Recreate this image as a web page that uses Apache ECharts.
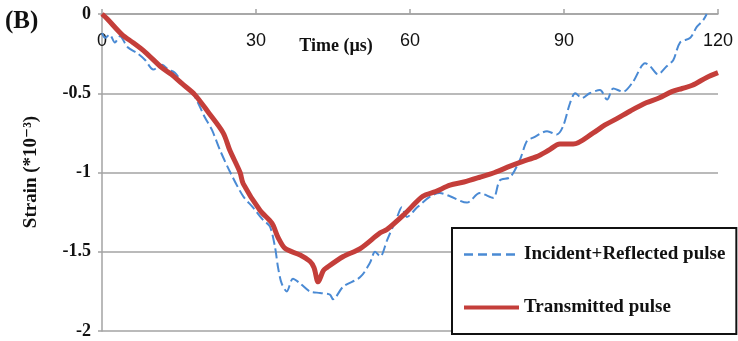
<!DOCTYPE html>
<html>
<head>
<meta charset="utf-8">
<script src="https://cdn.jsdelivr.net/npm/echarts@6/dist/echarts.min.js"></script>
<style>
  html, body { margin: 0; padding: 0; background: #fff; }
  #chart { width: 738px; height: 341px; }
</style>
</head>
<body>
<div id="chart"></div>
<script>
// Time axis ticks (µs) and strain ticks (*10^-3)
const timeTicks = [0, 30, 60, 90, 120];
const strainTicks = [0, -0.5, -1, -1.5, -2];

// Incident + reflected pulse
const incidentTime = [0, 0.6, 1.5, 2.5, 3.5, 5, 7, 8.4, 10, 11.7, 12.9, 14.2, 15.6, 17.5, 18.7, 20, 21.4, 23, 25, 27.5,
  29.4, 31.4, 32.7, 33.7, 34.3, 35, 36, 37.2, 38.6, 40.5, 42.5, 44.4, 45, 47, 50.3, 52.2, 53.2, 54.2, 55.5, 57.5,
  58.4, 59.4, 61.4, 64, 65.8, 67.8, 71.1, 73.6, 76.2, 77.5, 79.5, 81.4, 82.8, 84, 86.7, 88.6, 89.8, 91.2, 92.2, 93.5,
  95, 97, 98.4, 99.6, 101.5, 103.4, 105.8, 106.8, 108.3, 110, 111.3, 112.6, 114.6, 115.9, 117.1, 117.8];
const incidentStrain = [-0.12, -0.15, -0.13, -0.18, -0.14, -0.21, -0.25, -0.29, -0.35, -0.32, -0.35, -0.37, -0.43, -0.49, -0.56, -0.65, -0.73, -0.86, -1.0, -1.15,
  -1.22, -1.30, -1.34, -1.47, -1.60, -1.70, -1.75, -1.67, -1.70, -1.75, -1.76, -1.77, -1.80, -1.72, -1.66, -1.57, -1.50, -1.53, -1.43, -1.28,
  -1.22, -1.28, -1.22, -1.15, -1.13, -1.15, -1.19, -1.13, -1.16, -1.05, -1.03, -0.92, -0.80, -0.78, -0.74, -0.76, -0.71, -0.56, -0.50, -0.53,
  -0.50, -0.48, -0.54, -0.47, -0.49, -0.43, -0.31, -0.33, -0.38, -0.33, -0.29, -0.18, -0.15, -0.08, -0.04, 0];

// Transmitted pulse
const transmittedTime = [0, 1, 3.9, 6, 8.4, 11.7, 13.5, 15.6, 18.1, 20.7, 23.6, 24.9, 26.9, 27.5, 30.8, 33.1, 34.3, 35.7, 38.6, 40.5,
  41.3, 42.1, 43.1, 43.8, 47, 50.3, 54.2, 55.5, 59, 62.5, 65, 67.8, 70.5, 73.6, 76.5, 79.5, 82, 84.7, 87, 89.2,
  91.8, 95.7, 98, 100.3, 103, 106, 108.5, 111, 113, 115, 117.8, 120];
const transmittedStrain = [0, -0.03, -0.13, -0.18, -0.24, -0.34, -0.38, -0.44, -0.51, -0.62, -0.75, -0.86, -1.0, -1.07, -1.24, -1.32, -1.41, -1.48, -1.52, -1.56,
  -1.60, -1.69, -1.62, -1.60, -1.53, -1.48, -1.38, -1.36, -1.26, -1.15, -1.12, -1.08, -1.06, -1.03, -1.00, -0.96, -0.93, -0.90, -0.86, -0.82,
  -0.82, -0.75, -0.70, -0.66, -0.61, -0.56, -0.53, -0.49, -0.47, -0.45, -0.40, -0.37];

const zip = (xs, ys) => xs.map((x, i) => [x, ys[i]]);

const serif = '"Liberation Serif", "DejaVu Serif", serif';
const sans = '"Liberation Sans", Arial, sans-serif';
const gridGray = '#a3a3a3';
const blue = '#4a8ad4';
const red = '#c43e3a';

const chart = echarts.init(document.getElementById('chart'), null, { renderer: 'canvas' });

chart.setOption({
  animation: false,
  backgroundColor: '#ffffff',
  grid: { left: 102, top: 14, right: 20, bottom: 10, containLabel: false },
  xAxis: {
    type: 'value',
    position: 'top',
    min: timeTicks[0],
    max: timeTicks[timeTicks.length - 1],
    interval: 30,
    axisLine: { show: true, onZero: false, lineStyle: { color: gridGray, width: 1.5 } },
    axisTick: { show: true, inside: false, length: 5, lineStyle: { color: gridGray, width: 1.5 } },
    axisLabel: {
      inside: true, margin: 18,
      color: '#111', fontSize: 18, fontFamily: sans
    },
    splitLine: { show: false }
  },
  yAxis: {
    type: 'value',
    min: strainTicks[strainTicks.length - 1],
    max: strainTicks[0],
    interval: 0.5,
    axisLine: { show: true, lineStyle: { color: gridGray, width: 1.5 } },
    axisTick: { show: true, length: 4, lineStyle: { color: gridGray, width: 1.5 } },
    axisLabel: {
      margin: 11, color: '#111', fontSize: 18, fontWeight: 'bold', fontFamily: serif,
      formatter: v => String(v)
    },
    splitLine: { show: true, lineStyle: { color: gridGray, width: 1.5 } }
  },
  legend: {
    orient: 'vertical',
    left: 452, top: 228,
    padding: [17, 11, 17, 10],
    itemWidth: 55, itemHeight: 14, itemGap: 34,
    backgroundColor: '#ffffff',
    borderColor: '#111', borderWidth: 2, borderRadius: 0,
    itemStyle: { opacity: 0 },
    textStyle: { color: '#111', fontFamily: serif, fontSize: 19, fontWeight: 'bold' },
    data: [
      { name: 'Incident+Reflected pulse', lineStyle: { width: 2.5, type: [9, 5] } },
      { name: 'Transmitted pulse', lineStyle: { width: 4 } }
    ]
  },
  series: [
    {
      name: 'Incident+Reflected pulse',
      type: 'line',
      data: zip(incidentTime, incidentStrain),
      showSymbol: false, symbol: 'none',
      smooth: 0.3,
      lineStyle: { color: blue, width: 2, type: [10, 4] },
      itemStyle: { color: blue },
      z: 2
    },
    {
      name: 'Transmitted pulse',
      type: 'line',
      data: zip(transmittedTime, transmittedStrain),
      showSymbol: false, symbol: 'none',
      smooth: 0.3,
      lineStyle: { color: red, width: 5 },
      itemStyle: { color: red },
      z: 3
    }
  ],
  graphic: [
    {
      type: 'text', left: 5, top: 9,
      style: { text: '(B)', fontFamily: serif, fontWeight: 'bold', fontSize: 25, fill: '#111' }
    },
    {
      type: 'text', x: 336, y: 46,
      style: {
        text: 'Time (µs)', fontFamily: serif, fontWeight: 'bold', fontSize: 18, fill: '#111',
        textAlign: 'center', textVerticalAlign: 'middle'
      }
    },
    {
      type: 'text', x: 31, y: 172, rotation: Math.PI / 2,
      style: {
        text: 'Strain (*10⁻³)', fontFamily: serif, fontWeight: 'bold', fontSize: 19, fill: '#111',
        textAlign: 'center', textVerticalAlign: 'middle'
      }
    }
  ]
});
</script>
</body>
</html>
